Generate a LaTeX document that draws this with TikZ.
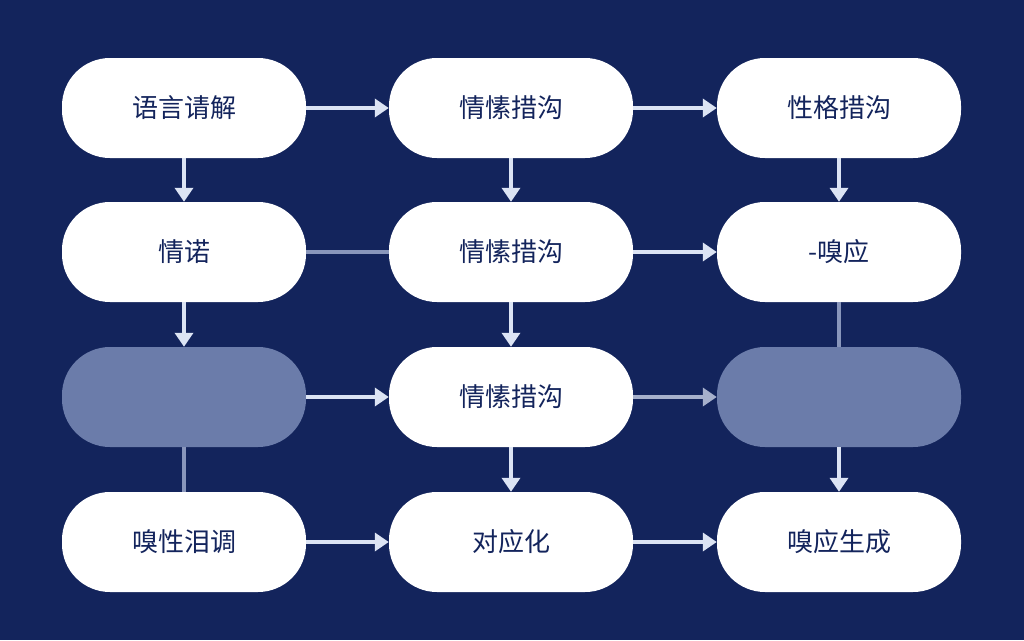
\documentclass[tikz,border=0pt]{standalone}
\usepackage{fontspec}
\newfontfamily\cjk{Noto Sans CJK SC}
\usetikzlibrary{arrows.meta}
\definecolor{bg}{HTML}{13245C}
\definecolor{ln}{HTML}{DCE4F4}
\definecolor{fd}{HTML}{6B7CAA}
\begin{document}
\begin{tikzpicture}[x=1pt,y=-1pt,
  pill/.style={rounded corners=48pt,fill=white,minimum width=244pt,minimum height=100pt,inner sep=0pt,font=\cjk\fontsize{26}{30}\selectfont,text=bg},
  ghost/.style={pill,fill=fd},
  arr/.style={draw=ln,line width=3.5pt,-{Triangle[length=14pt,width=18pt]}},
  lin/.style={draw=fd!80!white,line width=3.5pt}]
\fill[bg] (0,0) rectangle (1024,640);
\node[pill] (a1) at (184,108) {语言请解};
\node[pill] (b1) at (511,108) {情愫措沟};
\node[pill] (c1) at (839,108) {性格措沟};
\node[pill] (a2) at (184,252) {情诺};
\node[pill] (b2) at (511,252) {情愫措沟};
\node[pill] (c2) at (839,252) {-嗅应};
\node[ghost] (a3) at (184,397) {};
\node[pill] (b3) at (511,397) {情愫措沟};
\node[ghost] (c3) at (839,397) {};
\node[pill] (a4) at (184,542) {嗅性泪调};
\node[pill] (b4) at (511,542) {对应化};
\node[pill] (c4) at (839,542) {嗅应生成};
\draw[arr] (a1) -- (b1);
\draw[arr] (b1) -- (c1);
\draw[lin] (a2) -- (b2);
\draw[arr] (b2) -- (c2);
\draw[arr] (a3) -- (b3);
\draw[arr,draw=fd!60!white] (b3) -- (c3);
\draw[arr] (a4) -- (b4);
\draw[arr] (b4) -- (c4);
\draw[arr] (a1) -- (a2);
\draw[arr] (a2) -- (a3);
\draw[lin] (a3) -- (a4);
\draw[arr] (b1) -- (b2);
\draw[arr] (b2) -- (b3);
\draw[arr] (b3) -- (b4);
\draw[arr] (c1) -- (c2);
\draw[lin] (c2) -- (c3);
\draw[arr] (c3) -- (c4);
\end{tikzpicture}
\end{document}
